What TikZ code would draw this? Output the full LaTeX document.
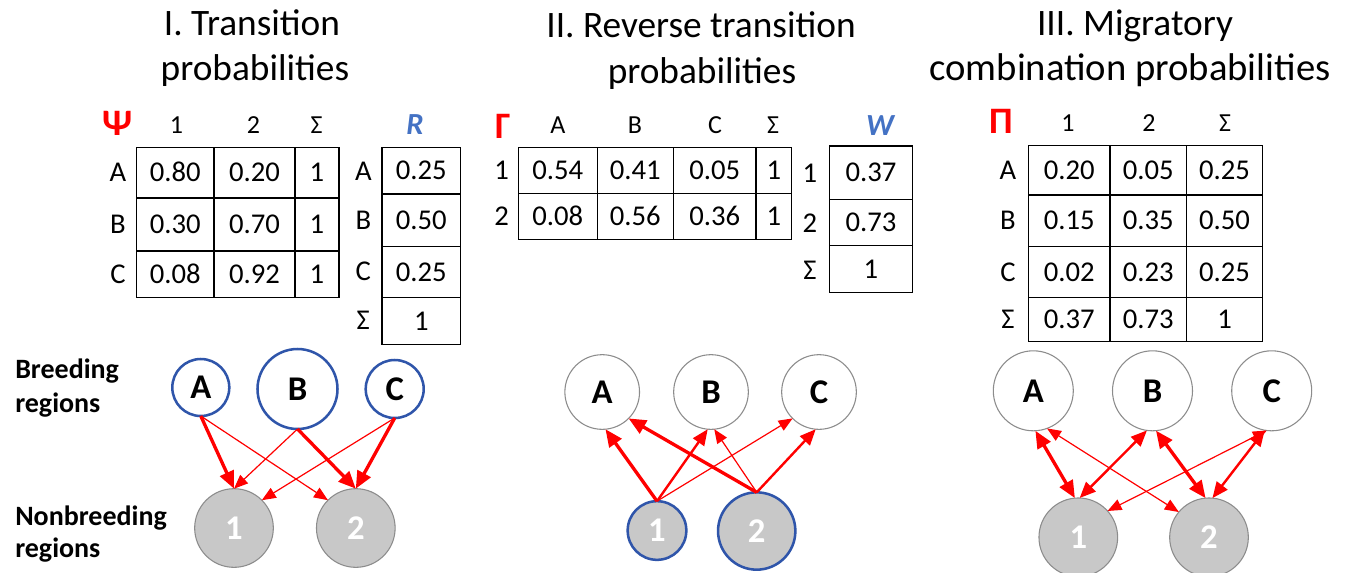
\documentclass[tikz,border=0pt]{standalone}
\usepackage{fontspec}
\setmainfont{Carlito}
\usetikzlibrary{arrows.meta}
\definecolor{ared}{RGB}{255,0,0}
\definecolor{rblue}{RGB}{68,114,196}
\definecolor{cblue}{RGB}{47,85,170}
\definecolor{ngray}{RGB}{200,200,200}
\definecolor{ogray}{RGB}{140,140,140}
\begin{document}
\begin{tikzpicture}[x=0.75pt,y=-0.75pt,
  title/.style={font=\fontsize{28}{33}\selectfont, anchor=base, inner sep=0},
  side/.style={font=\bfseries\fontsize{21}{25}\selectfont, anchor=base west, inner sep=0},
  hdr/.style={font=\fontsize{19.5}{23}\selectfont, anchor=base, inner sep=0},
  cell/.style={font=\fontsize{21.5}{25}\selectfont, anchor=base, inner sep=0},
  greek/.style={font=\bfseries\fontsize{28}{32}\selectfont, text=ared, anchor=base, inner sep=0},
  vec/.style={font=\bfseries\itshape\fontsize{23}{27}\selectfont, text=rblue, anchor=base, inner sep=0},
  grid/.style={line width=0.9pt},
  region/.style={circle, draw, inner sep=0, outer sep=0, font=\bfseries\fontsize{26}{30}\selectfont},
  brw/.style={region, draw=cblue, line width=1.9pt, fill=white},
  brg/.style={region, draw=ogray, line width=0.8pt, fill=white},
  nbg/.style={region, draw=ogray, line width=0.8pt, fill=ngray, text=white},
  nbb/.style={region, draw=cblue, line width=1.9pt, fill=ngray, text=white},
  ara/.style={draw=ared, line width=0.9pt, -{Triangle[length=10.5pt,width=8.5pt]}},
  arb/.style={draw=ared, line width=1.8pt, -{Triangle[length=12pt,width=10pt]}},
  arc/.style={draw=ared, line width=2.5pt, -{Triangle[length=13pt,width=11pt]}},
  dara/.style={draw=ared, line width=0.9pt, {Triangle[length=10.5pt,width=8.5pt]}-{Triangle[length=10.5pt,width=8.5pt]}},
  darb/.style={draw=ared, line width=1.8pt, {Triangle[length=12pt,width=10pt]}-{Triangle[length=12pt,width=10pt]}},
  darc/.style={draw=ared, line width=2.5pt, {Triangle[length=13pt,width=11pt]}-{Triangle[length=13pt,width=11pt]}}
]
\useasboundingbox (0,0) rectangle (1349,572);
\fill[white] (0,0) rectangle (1349,572);

% ---------- titles
\node[title] (t1a) at (252,35) {I. Transition};
\node[title] (t1b) at (255,80) {probabilities};
\node[title] (t2a) at (701,37) {II. Reverse transition};
\node[title] (t2b) at (702,83) {probabilities};
\node[title] (t3a) at (1135,35) {III. Migratory};
\node[title, font=\fontsize{29}{33}\selectfont] (t3b) at (1130,80) {combination probabilities};

% ---------- side labels
\node[side] (sb1) at (15,378) {Breeding};
\node[side] (sb2) at (15,412) {regions};
\node[side] (sn1) at (15,525) {Nonbreeding};
\node[side] (sn2) at (15,557) {regions};

% ---------- table Psi
\node[greek] (psi) at (117.5,135) {Ψ};
\node[hdr] (psih1) at (176.5,133) {1};
\node[hdr] (psih2) at (253.5,133) {2};
\node[hdr] (psih3) at (316.7,133) {Σ};
\draw[grid] (136.7,147.7) rectangle (339,297.7);
\draw[grid] (214,147.7) -- (214,297.7);
\draw[grid] (295,147.7) -- (295,297.7);
\draw[grid] (136.7,198) -- (339,198);
\draw[grid] (136.7,251) -- (339,251);
\foreach \y/\r/\a/\b in {181.8/A/0.80/0.20, 233.5/B/0.30/0.70, 283.3/C/0.08/0.92}{
  \node[cell] (psiL\r) at (118,\y) {\r};
  \node[cell] (psi\r x) at (175.3,\y) {\a};
  \node[cell] (psi\r y) at (254.5,\y) {\b};
  \node[cell] (psi\r s) at (317,\y) {1};
}
% ---------- vector R
\node[vec] (rh) at (415,134) {R};
\draw[grid] (382,147.3) rectangle (460.7,344.3);
\draw[grid] (382,194) -- (460.7,194);
\draw[grid] (382,246.7) -- (460.7,246.7);
\draw[grid] (382,297.7) -- (460.7,297.7);
\foreach \y/\r/\v in {179.7/A/0.25, 229.3/B/0.50, 281.2/C/0.25, 330/S/1}{
  \node[cell] (r\r) at (421.3,\y) {\v};
}
\node[cell] (rLA) at (363.3,180.7) {A};
\node[cell] (rLB) at (363.3,229) {B};
\node[cell] (rLC) at (363.3,280.7) {C};
\node[cell] (rLS) at (363.3,329) {Σ};

% ---------- table Gamma
\node[greek] (gam) at (503.3,138) {Γ};
\node[hdr] (gamhA) at (558,133) {A};
\node[hdr] (gamhB) at (635,133) {B};
\node[hdr] (gamhC) at (715,133) {C};
\node[hdr] (gamhS) at (773,133) {Σ};
\draw[grid] (518.3,147.3) rectangle (791.7,239.3);
\draw[grid] (597.3,147.3) -- (597.3,239.3);
\draw[grid] (673.3,147.3) -- (673.3,239.3);
\draw[grid] (756,147.3) -- (756,239.3);
\draw[grid] (518.3,193.3) -- (791.7,193.3);
\foreach \y/\r/\a/\b/\c in {179.3/1/0.54/0.41/0.05, 225.3/2/0.08/0.56/0.36}{
  \node[cell] (gamL\r) at (501.7,\y) {\r};
  \node[cell] (gam\r a) at (557.8,\y) {\a};
  \node[cell] (gam\r b) at (635.3,\y) {\b};
  \node[cell] (gam\r c) at (714.7,\y) {\c};
  \node[cell] (gam\r s) at (773.8,\y) {1};
}
% ---------- vector W
\node[vec] (wh) at (880,135) {W};
\draw[grid] (829.3,146) rectangle (912.7,292.7);
\draw[grid] (829.3,199.3) -- (912.7,199.3);
\draw[grid] (829.3,245.7) -- (912.7,245.7);
\foreach \y/\r/\v in {181.7/1/0.37, 231.5/2/0.73, 278.2/S/1}{
  \node[cell] (w\r) at (871,\y) {\v};
}
\node[cell] (wL1) at (810,182.3) {1};
\node[cell] (wL2) at (810,232.3) {2};
\node[cell] (wLS) at (810,279) {Σ};

% ---------- table Pi
\node[greek] (pi) at (1001.7,133) {Π};
\node[hdr] (pih1) at (1068,131.7) {1};
\node[hdr] (pih2) at (1149,131.7) {2};
\node[hdr] (pih3) at (1225,131.7) {Σ};
\draw[grid] (1028.3,145.7) rectangle (1262.3,341.7);
\draw[grid] (1110,145.7) -- (1110,341.7);
\draw[grid] (1186.7,145.7) -- (1186.7,341.7);
\draw[grid] (1028.3,195) -- (1262.3,195);
\draw[grid] (1028.3,246.7) -- (1262.3,246.7);
\draw[grid] (1028.3,297.3) -- (1262.3,297.3);
\foreach \y/\r/\l/\a/\b/\c in {179.3/A/A/0.20/0.05/0.25, 229.8/B/B/0.15/0.35/0.50, 281/C/C/0.02/0.23/0.25, 328.5/S/Σ/0.37/0.73/1}{
  \node[cell] (piL\r) at (1008,\y) {\l};
  \node[cell] (pi\r x) at (1069.2,\y) {\a};
  \node[cell] (pi\r y) at (1148.3,\y) {\b};
  \node[cell] (pi\r s) at (1224.5,\y) {\c};
}

% ---------- panel I graph
\node[brw, minimum size=42.75pt] (IA) at (200.8,387.5) {A};
\node[brw, minimum size=60pt] (IB) at (297.5,389) {B};
\node[brw, minimum size=43.5pt] (IC) at (394.7,389) {C};
\node[nbg, minimum size=59pt] (I1) at (234,528) {1};
\node[nbg, minimum size=59pt] (I2) at (355.8,528) {2};
\draw[arc] (IA.south) -- (I1.north);
\draw[ara] (IA.south) -- (I2.135);
\draw[ara] (IB.south) -- (I1.north);
\draw[arc] (IB.south) -- (I2.north);
\draw[ara] (IC.south) -- (I1.45);
\draw[arc] (IC.south) -- (I2.north);

% ---------- panel II graph
\node[brg, minimum size=56pt] (IIA) at (602.2,392) {A};
\node[brg, minimum size=56pt] (IIB) at (711,392) {B};
\node[brg, minimum size=56pt] (IIC) at (819,392) {C};
\node[nbb, minimum size=44pt] (II1) at (657,530.5) {1};
\node[nbb, minimum size=58pt] (II2) at (756.7,531) {2};
\draw[arc] (II1.north) -- (IIA.-85);
\draw[arb] (II1.north) -- (IIB.-95);
\draw[ara] (II1.north) -- (IIC.225);
\draw[arc] (II2.north) -- (IIA.-45);
\draw[ara] (II2.north) -- (IIB.-85);
\draw[arb] (II2.north) -- (IIC.-95);

% ---------- panel III graph
\node[brg, minimum size=60pt] (IIIA) at (1033.3,390.8) {A};
\node[brg, minimum size=60pt] (IIIB) at (1152.5,390.8) {B};
\node[brg, minimum size=60pt] (IIIC) at (1271.7,390.8) {C};
\node[nbg, minimum size=59pt] (III1) at (1078.3,537.3) {1};
\node[nbg, minimum size=59pt] (III2) at (1209,537.3) {2};
\draw[darc] (IIIA.-87) -- (III1.95);
\draw[dara] (IIIA.-70) -- (III2.140);
\draw[darb] (IIIB.-98) -- (III1.88);
\draw[darc] (IIIB.-85) -- (III2.95);
\draw[dara] (IIIC.-97) -- (III1.42);
\draw[darb] (IIIC.-100) -- (III2.85);
\end{tikzpicture}
\end{document}
